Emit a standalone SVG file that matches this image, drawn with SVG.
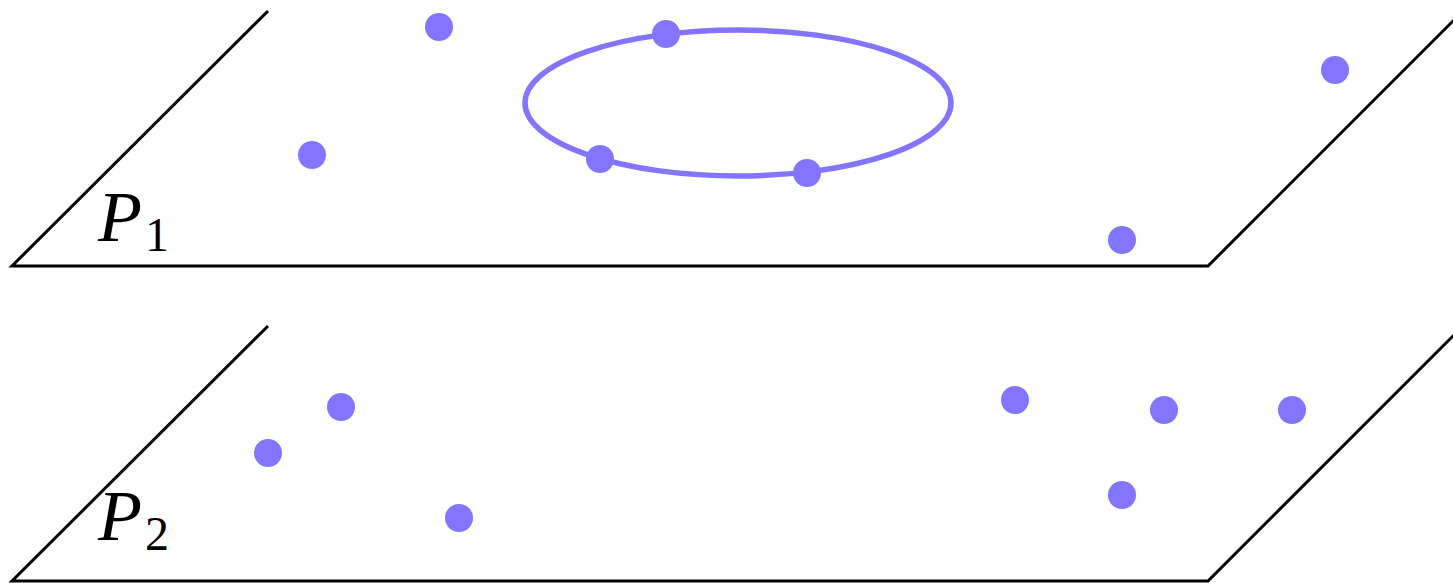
<svg xmlns="http://www.w3.org/2000/svg" width="1453" height="583" viewBox="0 0 1453 583">
<style>
.plane{fill:none;stroke:#000;stroke-width:3;stroke-linejoin:miter}
.dot{fill:#8375FF}
.lbl{font-family:"Liberation Serif",serif;font-style:italic;font-size:72px;fill:#000}
.sub{font-family:"Liberation Serif",serif;font-style:normal;font-size:48px;fill:#000}
</style>
<rect width="1453" height="583" fill="#fff"/>
<g id="plane1">
<polyline class="plane" points="268,11 12,266 1208,266 1455,19"/>
<text x="98" y="241"><tspan class="lbl">P</tspan><tspan class="sub" dx="3" dy="10">1</tspan></text>
</g>
<g id="plane2">
<polyline class="plane" points="268,326 12,581 1208,581 1455,334"/>
<text x="98" y="540"><tspan class="lbl">P</tspan><tspan class="sub" dx="3" dy="10">2</tspan></text>
</g>
<g id="circle">
<ellipse cx="738" cy="103" rx="213" ry="73" fill="none" stroke="#8375FF" stroke-width="5.5"/>
</g>
<g id="points1">
<circle class="dot" cx="439" cy="27" r="14"/>
<circle class="dot" cx="666" cy="34" r="14"/>
<circle class="dot" cx="312" cy="155" r="14"/>
<circle class="dot" cx="600" cy="159" r="14"/>
<circle class="dot" cx="807" cy="173" r="14"/>
<circle class="dot" cx="1335" cy="70" r="14"/>
<circle class="dot" cx="1122" cy="240" r="14"/>
</g>
<g id="points2">
<circle class="dot" cx="341" cy="407" r="14"/>
<circle class="dot" cx="268" cy="453" r="14"/>
<circle class="dot" cx="459" cy="518" r="14"/>
<circle class="dot" cx="1015" cy="400" r="14"/>
<circle class="dot" cx="1164" cy="410" r="14"/>
<circle class="dot" cx="1292" cy="410" r="14"/>
<circle class="dot" cx="1122" cy="495" r="14"/>
</g>
</svg>
